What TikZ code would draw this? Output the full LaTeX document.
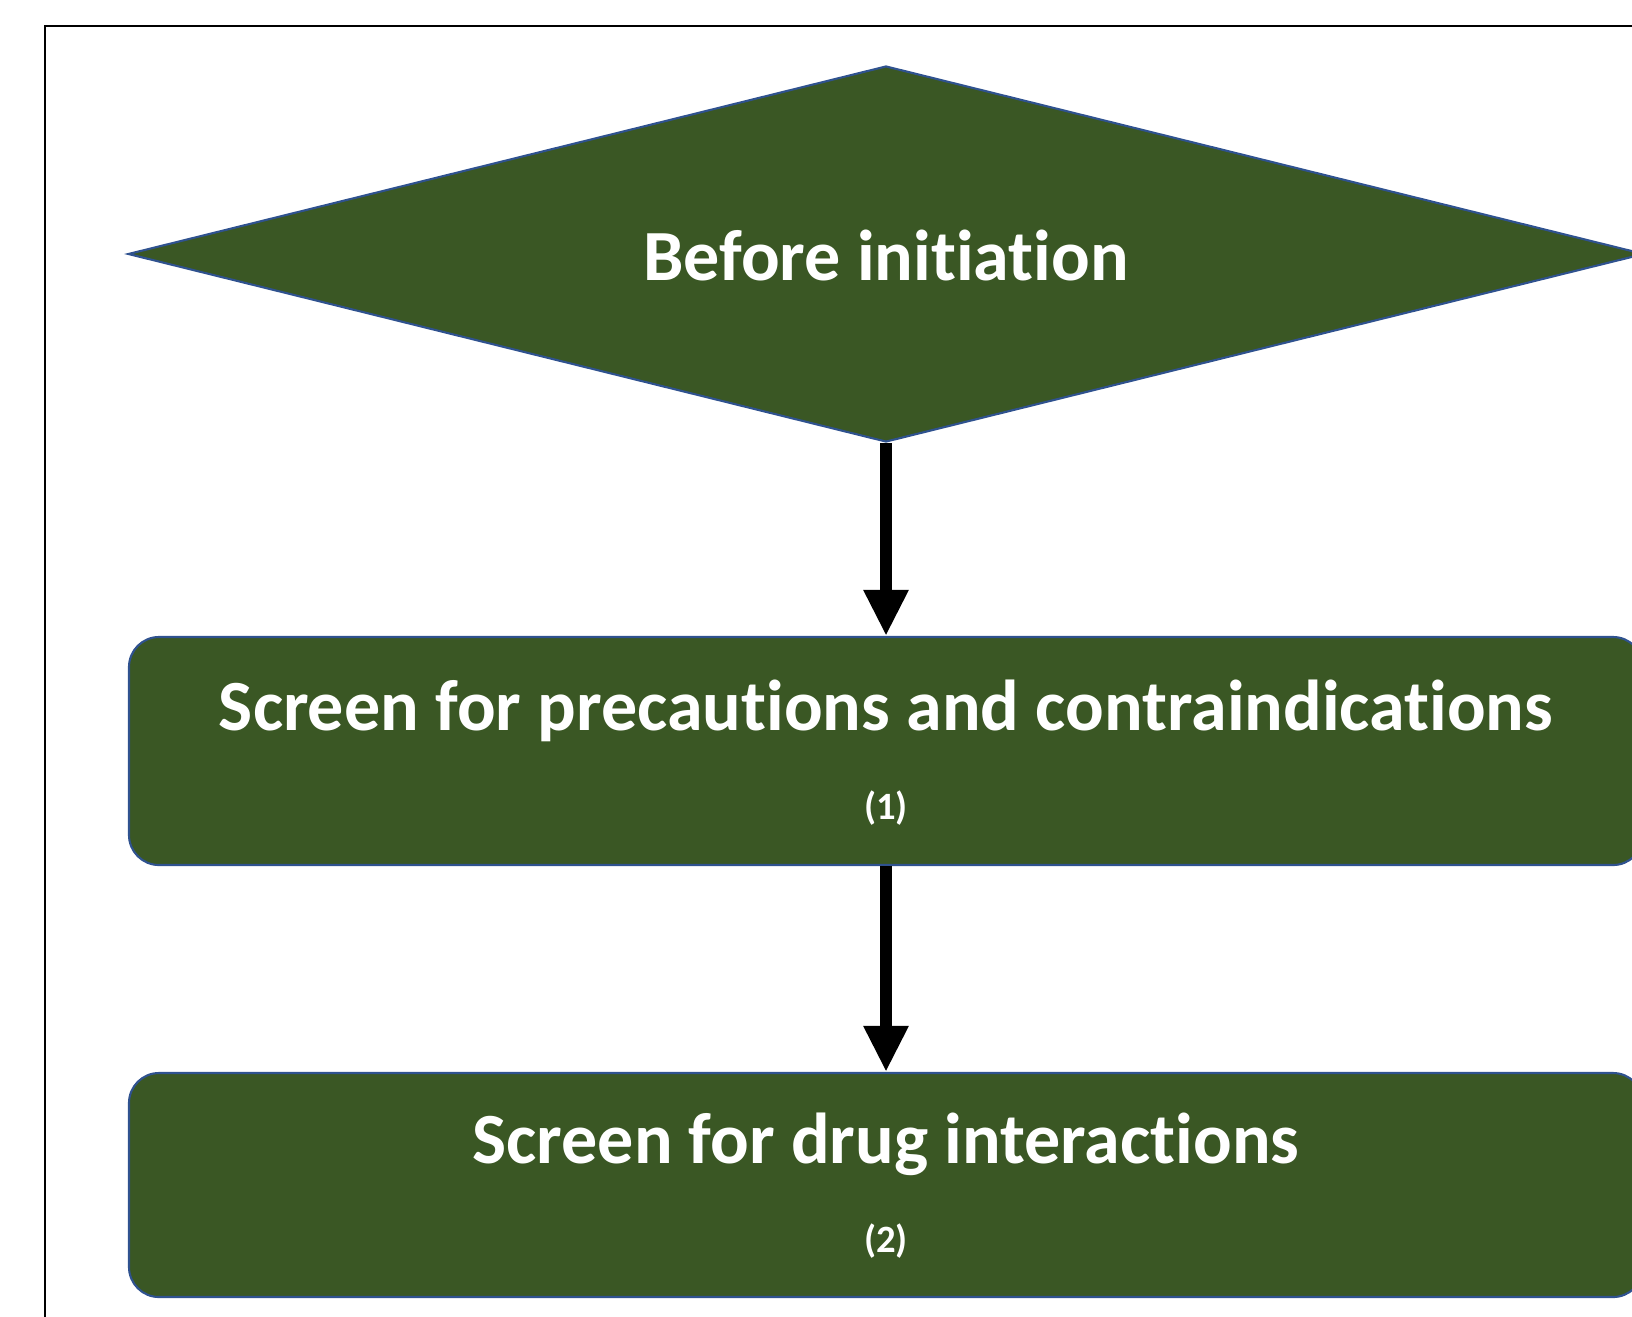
\documentclass[tikz,border=0pt]{standalone}
\usepackage{fontspec}
\setmainfont{Carlito}[Ligatures=NoCommon]
\usetikzlibrary{arrows.meta}
\usetikzlibrary{shapes.geometric}

\definecolor{boxgreen}{HTML}{3A5724}
\definecolor{edgeblue}{HTML}{2F528F}

\begin{document}
\begin{tikzpicture}[stepbox/.style={rectangle, rounded corners=0.3cm, fill=boxgreen, draw=edgeblue, line width=0.6pt, minimum width=15.14cm, inner sep=0pt},
	decision/.style={diamond, aspect=4, fill=boxgreen, draw=edgeblue, line width=0.6pt, minimum width=15.16cm, minimum height=3.76cm, inner sep=0pt},
	steptext/.style={anchor=base, text=white, font=\fontsize{20.5}{25}\selectfont\bfseries, inner sep=0pt},
	stepnum/.style={anchor=base, text=white, font=\fontsize{11}{13}\selectfont\bfseries, inner sep=0pt},
	flow/.style={-{Triangle[width=0.42cm, length=0.46cm]}, line width=0.12cm, black}]

	\useasboundingbox (0,0) rectangle (16.32,-13.16);
	\clip (0,0) rectangle (16.32,-13.16);

	% outer frame, cut at the right and bottom
	\draw[black, line width=0.7pt] (0.45,-14) -- (0.45,-0.26) -- (17,-0.26);

	\node[decision] (before) at (8.86,-2.54) {};
	\node[steptext] (before text) at (8.86,-2.80) {Before initiation};

	\node[stepbox, minimum height=2.28cm] (precaution) at (8.86,-7.51) {};
	\node[steptext] (precaution text) at (8.86,-7.30) {Screen for precautions and contraindications};
	\node[stepnum] (precaution num) at (8.86,-8.19) {(1)};

	\node[stepbox, minimum height=2.24cm] (interaction) at (8.86,-11.85) {};
	\node[steptext] (interaction text) at (8.86,-11.63) {Screen for drug interactions};
	\node[stepnum] (interaction num) at (8.86,-12.52) {(2)};

	\draw[flow] (before.south) -- (precaution.north);
	\draw[flow] (precaution.south) -- (interaction.north);

\end{tikzpicture}
\end{document}
